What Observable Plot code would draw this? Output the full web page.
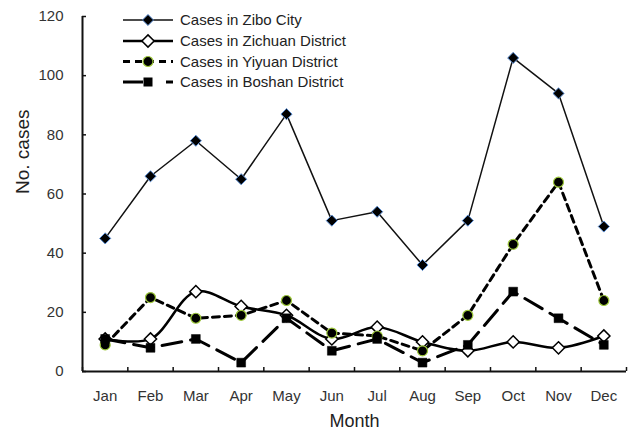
<!DOCTYPE html>
<html>
<head>
<meta charset="utf-8">
<script src="https://cdn.jsdelivr.net/npm/d3@7"></script>
<script src="https://cdn.jsdelivr.net/npm/@observablehq/plot@0.6"></script>
<style>
  html, body { margin: 0; padding: 0; background: #fff; }
  #wrap { position: relative; width: 636px; height: 436px; }
  #legend { position: absolute; left: 0; top: 0; pointer-events: none; }
</style>
</head>
<body>
<div id="wrap"></div>
<script>
const months = ["Jan","Feb","Mar","Apr","May","Jun","Jul","Aug","Sep","Oct","Nov","Dec"];
const zibo    = [45, 66, 78, 65, 87, 51, 54, 36, 51, 106, 94, 49];
const zichuan = [11, 11, 27, 22, 19, 11, 15, 10, 7, 10, 8, 12];
const yiyuan  = [9, 25, 18, 19, 24, 13, 12, 7, 19, 43, 64, 24];
const boshan  = [11, 8, 11, 3, 18, 7, 11, 3, 9, 27, 18, 9];
const yTicks = [0, 20, 40, 60, 80, 100, 120];
const seriesNames = ["Cases in Zibo City", "Cases in Zichuan District", "Cases in Yiyuan District", "Cases in Boshan District"];

const rows = months.map((m, i) => ({i: i + 1, month: m, zibo: zibo[i], zichuan: zichuan[i], yiyuan: yiyuan[i], boshan: boshan[i]}));
const boundaries = d3.range(0, 13).map(k => k + 0.5);

const font = "'Liberation Sans', Arial, sans-serif";
const chart = Plot.plot({
  width: 636,
  height: 436,
  marginLeft: 82,
  marginRight: 10,
  marginTop: 16,
  marginBottom: 65,
  style: {fontFamily: font, background: "white"},
  x: {type: "linear", domain: [0.5, 12.5], axis: null},
  y: {domain: [0, 120], axis: null},
  marks: [
    Plot.axisY({ticks: yTicks, tickSize: 0, tickPadding: 19, fontSize: 15, fill: "#333", label: null}),
    Plot.axisX({ticks: d3.range(1, 13), tickFormat: d => months[d - 1], tickSize: 0, tickPadding: 19, fontSize: 15, fill: "#333", label: null}),
    Plot.tickY(yTicks, {y: d => d, insetRight: 540, stroke: "#111", strokeWidth: 1.5}),
    Plot.tickX(boundaries, {x: d => d, insetTop: 351, stroke: "#111", strokeWidth: 1.5}),
    Plot.ruleX([0.5], {stroke: "#111", strokeWidth: 2}),
    Plot.ruleY([0], {stroke: "#111", strokeWidth: 2}),
    Plot.text(["No. cases"], {text: d => d, frameAnchor: "left", dx: -60, rotate: -90, fontSize: 19, fill: "#222"}),
    Plot.text(["Month"], {text: d => d, frameAnchor: "bottom", dy: 55, fontSize: 18, fill: "#222"}),
    // Zibo City
    Plot.line(rows, {x: "i", y: "zibo", stroke: "#111", strokeWidth: 1.5}),
    Plot.dot(rows, {x: "i", y: "zibo", symbol: "diamond2", r: 5, fill: "#000", stroke: "#5b8fd6", strokeWidth: 1}),
    // Zichuan District
    Plot.line(rows, {x: "i", y: "zichuan", stroke: "#000", strokeWidth: 2.5, curve: "catmull-rom"}),
    Plot.dot(rows, {x: "i", y: "zichuan", symbol: "diamond2", r: 5.5, fill: "#fff", stroke: "#000", strokeWidth: 1.5}),
    // Yiyuan District
    Plot.line(rows, {x: "i", y: "yiyuan", stroke: "#000", strokeWidth: 3, strokeDasharray: "7,5"}),
    Plot.dot(rows, {x: "i", y: "yiyuan", symbol: "circle", r: 5, fill: "#000", stroke: "#9dc83a", strokeWidth: 1.2}),
    // Boshan District
    Plot.line(rows, {x: "i", y: "boshan", stroke: "#000", strokeWidth: 3, strokeDasharray: "20,9"}),
    Plot.dot(rows, {x: "i", y: "boshan", symbol: "square", r: 5, fill: "#000", stroke: "#000", strokeWidth: 0.5})
  ]
});
const wrap = document.getElementById("wrap");
wrap.appendChild(chart);

// Legend overlay
const lg = d3.select(wrap).append("svg").attr("id", "legend").attr("width", 636).attr("height", 436)
  .style("font-family", font);
const ys = [20, 41, 61.5, 82];
const x0 = 123, x1 = 173, xm = 148, xt = 180;
const sym = (type, size) => d3.symbol(type, size)();
// Zibo
lg.append("line").attr("x1", x0).attr("x2", x1).attr("y1", ys[0]).attr("y2", ys[0]).attr("stroke", "#111").attr("stroke-width", 1.5);
lg.append("path").attr("d", sym(d3.symbolDiamond2, 78)).attr("transform", `translate(${xm},${ys[0]})`).attr("fill", "#000").attr("stroke", "#5b8fd6");
// Zichuan
lg.append("line").attr("x1", x0).attr("x2", x1).attr("y1", ys[1]).attr("y2", ys[1]).attr("stroke", "#000").attr("stroke-width", 2.5);
lg.append("path").attr("d", sym(d3.symbolDiamond2, 95)).attr("transform", `translate(${xm},${ys[1]})`).attr("fill", "#fff").attr("stroke", "#000").attr("stroke-width", 1.5);
// Yiyuan
lg.append("line").attr("x1", x0).attr("x2", x1).attr("y1", ys[2]).attr("y2", ys[2]).attr("stroke", "#000").attr("stroke-width", 3).attr("stroke-dasharray", "7,5");
lg.append("circle").attr("cx", xm).attr("cy", ys[2]).attr("r", 5).attr("fill", "#000").attr("stroke", "#9dc83a").attr("stroke-width", 1.2);
// Boshan
lg.append("line").attr("x1", x0).attr("x2", x1).attr("y1", ys[3]).attr("y2", ys[3]).attr("stroke", "#000").attr("stroke-width", 3).attr("stroke-dasharray", "20,23,7");
lg.append("rect").attr("x", xm - 4.5).attr("y", ys[3] - 4.5).attr("width", 9).attr("height", 9).attr("fill", "#000");
seriesNames.forEach((s, k) => {
  lg.append("text").attr("x", xt).attr("y", ys[k]).attr("dy", "0.35em").attr("font-size", 15).attr("fill", "#222").text(s);
});
</script>
</body>
</html>
